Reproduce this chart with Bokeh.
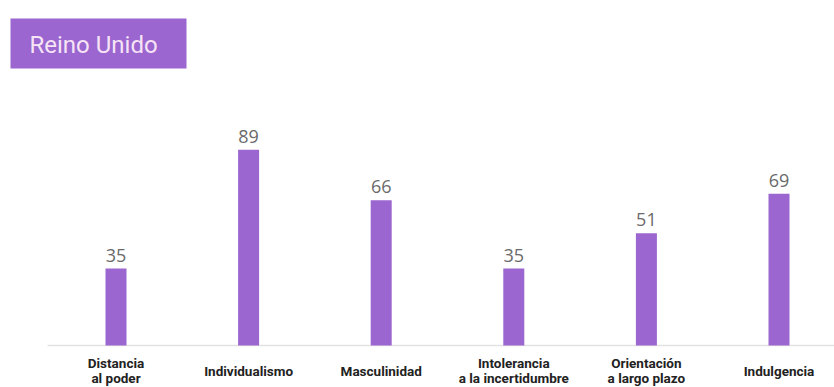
from bokeh.plotting import figure
from bokeh.models import Range1d, ColumnDataSource
from bokeh.core.properties import value
from bokeh.embed import file_html
from bokeh.resources import INLINE

title_text = "Reino Unido"
categories = ["Distancia\nal poder", "Individualismo", "Masculinidad",
              "Intolerancia\na la incertidumbre", "Orientación\na largo plazo", "Indulgencia"]
scores = [35, 89, 66, 35, 51, 69]

W, H = 834, 387
x0_px, step_px = 115.5, 132.6
base_px, ppu = 345, 2.2

xs = list(range(len(categories)))
src = ColumnDataSource(dict(x=xs, top=scores, lab=[str(v) for v in scores],
                            cat=categories, zero=[0] * len(xs)))

p = figure(width=W, height=H, output_backend="svg", toolbar_location=None,
           min_border=0, border_fill_color="white", outline_line_color=None,
           x_range=Range1d(-x0_px / step_px, (W - x0_px) / step_px),
           y_range=Range1d(-(H - base_px) / ppu, base_px / ppu))
p.axis.visible = False
p.grid.visible = False

def dx(px):
    return (px - x0_px) / step_px

def dy(px):
    return (base_px - px) / ppu

# baseline
p.segment(x0=[dx(47)], y0=[0], x1=[dx(834)], y1=[0], line_color="#e2e2e2", line_width=1.5)

# bars
p.vbar(x="x", top="top", bottom=0, width=21 / step_px, source=src,
       fill_color="#9b66cf", line_color=None)

# value labels
p.text(x="x", y="top", text="lab", source=src, text_align="center",
       text_baseline="bottom", y_offset=-7, text_font=value("Open Sans"),
       text_font_size="18px", text_color="#6a6a6a")

# category labels
p.text(x="x", y="zero", text="cat", source=src, text_align="center",
       text_baseline="middle", y_offset=25, text_font=value("Roboto"),
       text_font_style="bold", text_font_size="13.5px", text_color="#222222",
       text_line_height=0.92)

# title box
p.quad(left=[dx(10)], right=[dx(186)], top=[dy(18)], bottom=[dy(68)],
       fill_color="#9b66cf", line_color=None)
p.text(x=[dx(29)], y=[dy(44)], text=[title_text], text_align="left",
       text_baseline="middle", text_font=value("Roboto"), text_font_size="24px",
       text_color="#f6e4f6")

open("out.html", "w").write(file_html(p, INLINE))
